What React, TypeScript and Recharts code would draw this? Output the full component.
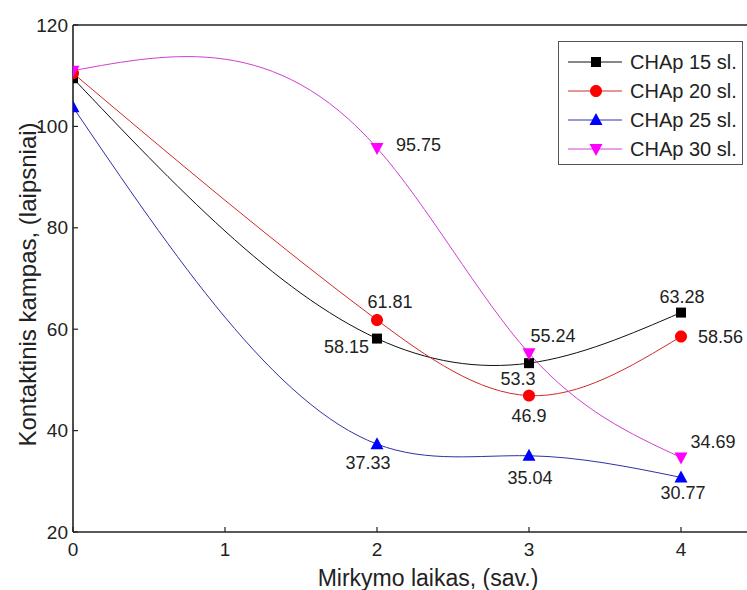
import React from 'react';
import { LineChart, Line, XAxis, YAxis, ReferenceLine, LabelList, Legend, Label } from 'recharts';

// x positions (weeks) and the four measured series
const weeks = [0, 2, 3, 4];
const chap15 = [109.5, 58.15, 53.3, 63.28];
const chap20 = [110.5, 61.81, 46.9, 58.56];
const chap25 = [103.8, 37.33, 35.04, 30.77];
const chap30 = [111, 95.75, 55.24, 34.69];
const seriesNames = ['CHAp 15 sl.', 'CHAp 20 sl.', 'CHAp 25 sl.', 'CHAp 30 sl.'];
const xTicks = [0, 1, 2, 3, 4];
const yTicks = [20, 40, 60, 80, 100, 120];

const data = weeks.map((w, i) => ({ week: w, s15: chap15[i], s20: chap20[i], s25: chap25[i], s30: chap30[i] }));

const FONT = '"Liberation Sans", Arial, sans-serif';

// chart frame: margins + axis sizes give the plot rectangle
const CHART_W = 780;
const CHART_H = 590;
const MARGIN = { top: 25, right: 23, left: 0, bottom: 0 };
const Y_AXIS_W = 73;
const X_AXIS_H = 58;
const PLOT_LEFT = MARGIN.left + Y_AXIS_W;

type Shape = 'square' | 'circle' | 'up' | 'down';
type Off = { dx: number; dy: number; anchor: 'start' | 'middle' | 'end' } | null;

const series: { key: string; name: string; line: string; fill: string; shape: Shape; labels: Off[] }[] = [
  {
    key: 's15', name: seriesNames[0], line: '#111', fill: '#000', shape: 'square',
    labels: [null, { dx: -8, dy: 8, anchor: 'end' }, { dx: -11, dy: 16, anchor: 'middle' }, { dx: 1, dy: -16, anchor: 'middle' }],
  },
  {
    key: 's20', name: seriesNames[1], line: '#d02a2a', fill: '#ff0000', shape: 'circle',
    labels: [null, { dx: 13, dy: -18, anchor: 'middle' }, { dx: 0, dy: 20, anchor: 'middle' }, { dx: 17, dy: 0, anchor: 'start' }],
  },
  {
    key: 's25', name: seriesNames[2], line: '#3030a8', fill: '#0000ff', shape: 'up',
    labels: [null, { dx: -9, dy: 19, anchor: 'middle' }, { dx: 1, dy: 22, anchor: 'middle' }, { dx: 2, dy: 16, anchor: 'middle' }],
  },
  {
    key: 's30', name: seriesNames[3], line: '#d040d0', fill: '#ff00ff', shape: 'down',
    labels: [null, { dx: 19, dy: -3, anchor: 'start' }, { dx: 24, dy: -17, anchor: 'middle' }, { dx: 32, dy: -16, anchor: 'middle' }],
  },
];

// natural cubic spline, y as a function of x (like Origin's spline connection)
const splineX = (context: any) => {
  let px: number[] = [];
  let py: number[] = [];
  return {
    areaStart() {},
    areaEnd() {},
    lineStart() { px = []; py = []; },
    point(x: number, y: number) { px.push(+x); py.push(+y); },
    lineEnd() {
      const n = px.length;
      if (!n) return;
      context.moveTo(px[0], py[0]);
      if (n < 3) {
        for (let i = 1; i < n; i++) context.lineTo(px[i], py[i]);
        return;
      }
      const h: number[] = [];
      const d: number[] = [];
      for (let i = 0; i < n - 1; i++) {
        h.push(px[i + 1] - px[i]);
        d.push((py[i + 1] - py[i]) / h[i]);
      }
      const a: number[] = [], b: number[] = [], c: number[] = [], r: number[] = [];
      for (let i = 1; i < n - 1; i++) {
        a.push(h[i - 1]); b.push(2 * (h[i - 1] + h[i])); c.push(h[i]); r.push(6 * (d[i] - d[i - 1]));
      }
      const k = a.length;
      for (let i = 1; i < k; i++) {
        const w = a[i] / b[i - 1];
        b[i] -= w * c[i - 1];
        r[i] -= w * r[i - 1];
      }
      const sol: number[] = new Array(k);
      sol[k - 1] = r[k - 1] / b[k - 1];
      for (let i = k - 2; i >= 0; i--) sol[i] = (r[i] - c[i] * sol[i + 1]) / b[i];
      const m = new Array(n).fill(0);
      for (let i = 0; i < k; i++) m[i + 1] = sol[i];
      for (let i = 0; i < n - 1; i++) {
        const s0 = d[i] - (h[i] * (2 * m[i] + m[i + 1])) / 6;
        const s1 = d[i] + (h[i] * (m[i] + 2 * m[i + 1])) / 6;
        context.bezierCurveTo(
          px[i] + h[i] / 3, py[i] + (s0 * h[i]) / 3,
          px[i + 1] - h[i] / 3, py[i + 1] - (s1 * h[i]) / 3,
          px[i + 1], py[i + 1],
        );
      }
    },
  };
};

const shapePoints = (cx: number, cy: number, shape: Shape): [number, number][] => {
  if (shape === 'square') return [[cx - 5, cy - 5], [cx + 5, cy - 5], [cx + 5, cy + 5], [cx - 5, cy + 5]];
  if (shape === 'up') return [[cx, cy - 7], [cx + 6.5, cy + 5], [cx - 6.5, cy + 5]];
  if (shape === 'down') return [[cx, cy + 7], [cx + 6.5, cy - 5], [cx - 6.5, cy - 5]];
  const pts: [number, number][] = [];
  for (let i = 0; i < 36; i++) {
    const t = (i / 36) * Math.PI * 2;
    pts.push([cx + 6 * Math.cos(t), cy + 6 * Math.sin(t)]);
  }
  return pts;
};

// cut a polygon at a vertical line (keep x >= xmin)
const clipLeft = (pts: [number, number][], xmin: number) => {
  const out: [number, number][] = [];
  for (let i = 0; i < pts.length; i++) {
    const p = pts[i];
    const q = pts[(i + 1) % pts.length];
    const pin = p[0] >= xmin;
    const qin = q[0] >= xmin;
    if (pin) out.push(p);
    if (pin !== qin) {
      const t = (xmin - p[0]) / (q[0] - p[0]);
      out.push([xmin, p[1] + t * (q[1] - p[1])]);
    }
  }
  return out;
};

const Marker = ({ cx, cy, shape, fill, xmin }: { cx: number; cy: number; shape: Shape; fill: string; xmin?: number }) => {
  let pts = shapePoints(cx, cy, shape);
  if (xmin !== undefined) pts = clipLeft(pts, xmin);
  if (pts.length < 3) return null;
  return <polygon points={pts.map((p) => `${p[0]},${p[1]}`).join(' ')} fill={fill} />;
};

const XTick = (p: any) => (
  <g>
    <line x1={p.x} x2={p.x} y1={p.y} y2={p.y - 5} stroke="#222" strokeWidth={1.2} />
    <text x={p.x} y={p.y + 17} textAnchor="middle" dominantBaseline="central" fontSize={19} fill="#222" fontFamily={FONT}>
      {p.payload.value}
    </text>
  </g>
);

const YTick = (p: any) => (
  <g>
    <line x1={p.x} x2={p.x + 5} y1={p.y} y2={p.y} stroke="#222" strokeWidth={1.2} />
    <text x={p.x - 5} y={p.y} textAnchor="end" dominantBaseline="central" fontSize={19} fill="#222" fontFamily={FONT}>
      {p.payload.value}
    </text>
  </g>
);

const LegendBox = () => (
  <div style={{ border: '1px solid #555', background: '#fff', width: 183, height: 122, position: 'relative', fontFamily: FONT }}>
    {series.map((s, i) => (
      <div key={s.key} style={{ position: 'absolute', left: 0, top: 20 + i * 29 - 12, height: 24, display: 'flex', alignItems: 'center' }}>
        <svg width={70} height={24}>
          <line x1={9} x2={63} y1={12} y2={12} stroke={s.line} strokeWidth={1} />
          <Marker cx={37} cy={12} shape={s.shape} fill={s.fill} />
        </svg>
        <span style={{ fontSize: 20, color: '#222', marginLeft: 1, whiteSpace: 'nowrap' }}>{s.name}</span>
      </div>
    ))}
  </div>
);

export default function App() {
  return (
    <div style={{ position: 'fixed', left: 0, top: 0, width: 747, height: 590, overflow: 'hidden', background: '#fff' }}>
      <LineChart width={CHART_W} height={CHART_H} data={data} margin={MARGIN}>
        <XAxis
          dataKey="week"
          type="number"
          domain={[0, 4.5]}
          ticks={xTicks}
          allowDataOverflow
          height={X_AXIS_H}
          tickSize={0}
          tickMargin={0}
          tickLine={false}
          tick={<XTick />}
          axisLine={{ stroke: '#222', strokeWidth: 1.6 }}
        >
          <Label
            content={({ viewBox }: any) => (
              <text x={viewBox.x + viewBox.width / 2 + 13} y={viewBox.y + 46} textAnchor="middle" dominantBaseline="central" fontSize={23} fill="#222" fontFamily={FONT}>
                Mirkymo laikas, (sav.)
              </text>
            )}
          />
        </XAxis>
        <YAxis
          type="number"
          domain={[20, 120]}
          ticks={yTicks}
          width={Y_AXIS_W}
          tickSize={0}
          tickMargin={0}
          tickLine={false}
          tick={<YTick />}
          axisLine={{ stroke: '#222', strokeWidth: 1.6 }}
        >
          <Label
            content={({ viewBox }: any) => {
              const cx = 27;
              const cy = viewBox.y + viewBox.height / 2 + 6;
              return (
                <text x={cx} y={cy} transform={`rotate(-90, ${cx}, ${cy})`} textAnchor="middle" dominantBaseline="central" fontSize={24} fill="#222" fontFamily={FONT}>
                  Kontaktinis kampas, (laipsniai)
                </text>
              );
            }}
          />
        </YAxis>
        <ReferenceLine y={120} stroke="#222" strokeWidth={1.6} />
        <Legend
          layout="vertical"
          align="center"
          verticalAlign="middle"
          content={<LegendBox />}
          wrapperStyle={{ left: 558, top: 41, width: 185, height: 124 }}
        />
        {series.map((s) => (
          <Line
            key={s.key}
            dataKey={s.key}
            name={s.name}
            type={splineX as any}
            stroke={s.line}
            strokeWidth={1}
            isAnimationActive={false}
            dot={(p: any) => (
              <Marker key={`${s.key}-${p.index}`} cx={p.cx} cy={p.cy} shape={s.shape} fill={s.fill} xmin={PLOT_LEFT} />
            )}
            activeDot={false}
          >
            <LabelList
              dataKey={s.key}
              content={(p: any) => {
                const off = s.labels[p.index];
                if (!off) return null;
                return (
                  <text x={p.x + off.dx} y={p.y + off.dy} textAnchor={off.anchor} dominantBaseline="central" fontSize={18} fill="#222" fontFamily={FONT}>
                    {p.value}
                  </text>
                );
              }}
            />
          </Line>
        ))}
      </LineChart>
    </div>
  );
}
